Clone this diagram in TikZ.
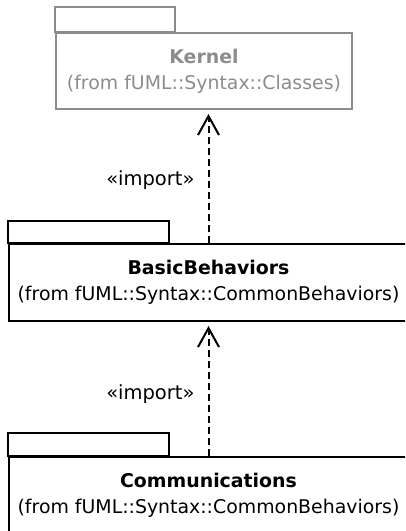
\documentclass[tikz,border=0pt]{standalone}
\usepackage{fontspec}
\setmainfont{DejaVu Sans}
\usetikzlibrary{arrows.meta}
\definecolor{pkggray}{RGB}{140,140,140}

\begin{document}
\begin{tikzpicture}[x=1pt,y=-1pt,
  pkg/.style={draw,line width=2pt,align=center,inner sep=0pt,
    font=\fontsize{18.9}{26}\selectfont},
  imp/.style={line width=2pt,dash pattern=on 7pt off 4pt,shorten >=4pt,
    -{Straight Barb[length=19pt,width=21pt,line width=2pt]}},
  lbl/.style={inner xsep=13pt,inner ysep=0pt,font=\fontsize{19.5}{25}\selectfont}]
\useasboundingbox (0,0) rectangle (405,531);
\clip (0,0) rectangle (405,531);

\node[pkg,pkggray,minimum width=296pt,minimum height=76pt] (kernel) at (204,71)
  {\textbf{Kernel}\\(from fUML::Syntax::Classes)};
\draw[pkggray,line width=2pt] (kernel.north west) rectangle ++(120,-25);

\node[pkg,minimum width=399pt,minimum height=77pt] (basic) at (208.5,282.5)
  {\textbf{BasicBehaviors}\\(from fUML::Syntax::CommonBehaviors)};
\draw[line width=2pt] (basic.north west) rectangle ++(161,-22);

\node[pkg,minimum width=399pt,minimum height=77pt] (comm) at (208.5,495.5)
  {\textbf{Communications}\\(from fUML::Syntax::CommonBehaviors)};
\draw[line width=2pt] (comm.north west) rectangle ++(161,-23);

\draw[imp] (basic.north) -- (kernel.south -| basic.north)
  node[lbl,pos=0.47,left] {«import»};
\draw[imp] (comm.north) -- (basic.south)
  node[lbl,pos=0.46,left] {«import»};
\end{tikzpicture}
\end{document}
